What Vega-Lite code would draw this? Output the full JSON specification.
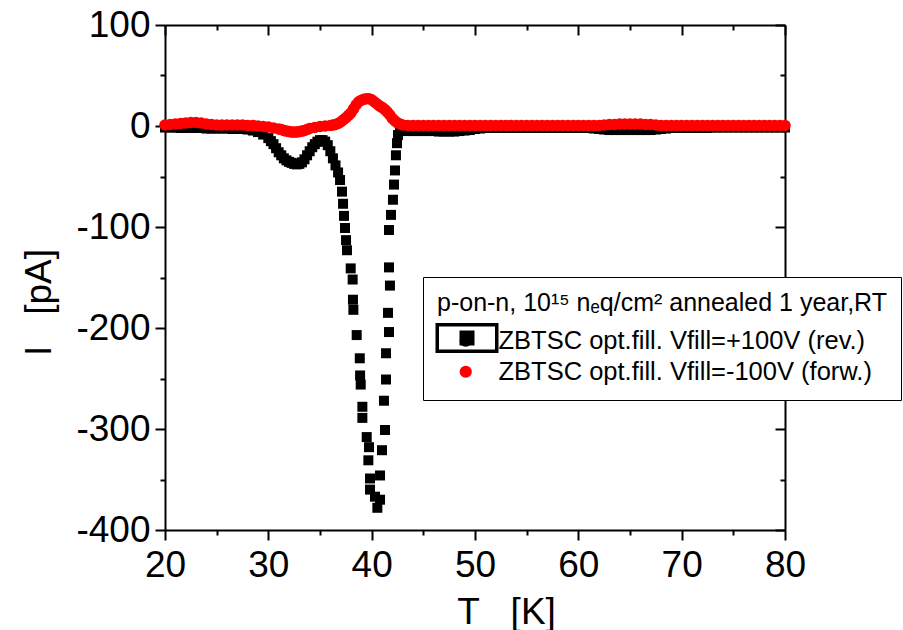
{
 "$schema": "https://vega.github.io/schema/vega-lite/v6.json",
 "width": 620, "height": 505,
 "autosize": {"type": "none"},
 "padding": {"left": 165, "top": 25, "right": 118, "bottom": 100},
 "background": "white",
 "config": {
  "view": {"stroke": null},
  "axis": {"grid": false, "domainColor": "black", "domainWidth": 2, "tickColor": "black", "tickWidth": 2, "labelColor": "black", "labelFont": "Liberation Sans", "labelFontSize": 37, "titleFont": "Liberation Sans", "titleFontSize": 37, "titleFontWeight": "normal", "titleColor": "black", "labelFlush": false, "labelOverlap": false, "labelBound": false}
 },
 "data": {"values": [
  {"s":"r","T":20,"I":-1.5},{"s":"r","T":20.5,"I":-1.5},{"s":"r","T":21,"I":-1.5},{"s":"r","T":21.5,"I":-2},{"s":"r","T":22,"I":-2},{"s":"r","T":22.5,"I":-2},{"s":"r","T":23,"I":-2},{"s":"r","T":23.5,"I":-2},{"s":"r","T":24,"I":-2.5},{"s":"r","T":24.5,"I":-2.5},{"s":"r","T":25,"I":-2.5},{"s":"r","T":25.5,"I":-2.5},{"s":"r","T":26,"I":-2.5},{"s":"r","T":26.5,"I":-3},{"s":"r","T":27,"I":-3},{"s":"r","T":27.5,"I":-3},{"s":"r","T":28,"I":-3.5},{"s":"r","T":28.5,"I":-4.5},{"s":"r","T":29,"I":-6},{"s":"r","T":29.5,"I":-8.5},{"s":"r","T":30,"I":-12},{"s":"r","T":30.25,"I":-15},{"s":"r","T":30.5,"I":-18},{"s":"r","T":30.75,"I":-22},{"s":"r","T":31,"I":-26},{"s":"r","T":31.25,"I":-29},{"s":"r","T":31.5,"I":-32},{"s":"r","T":31.75,"I":-34},{"s":"r","T":32,"I":-35.5},{"s":"r","T":32.25,"I":-36.5},{"s":"r","T":32.5,"I":-37.5},{"s":"r","T":32.75,"I":-38},{"s":"r","T":33,"I":-37.5},{"s":"r","T":33.25,"I":-36},{"s":"r","T":33.5,"I":-33},{"s":"r","T":33.75,"I":-29},{"s":"r","T":34,"I":-25},{"s":"r","T":34.25,"I":-21},{"s":"r","T":34.5,"I":-18},{"s":"r","T":34.75,"I":-15.5},{"s":"r","T":35,"I":-14},{"s":"r","T":35.25,"I":-14},{"s":"r","T":35.5,"I":-15.5},{"s":"r","T":35.75,"I":-19},{"s":"r","T":36,"I":-25},{"s":"r","T":36.25,"I":-32},{"s":"r","T":36.5,"I":-39},{"s":"r","T":36.75,"I":-46},
  {"s":"r","T":36.94,"I":-53.5},{"s":"r","T":37.13,"I":-65},{"s":"r","T":37.23,"I":-77},{"s":"r","T":37.32,"I":-89},{"s":"r","T":37.42,"I":-101},{"s":"r","T":37.52,"I":-113},{"s":"r","T":37.61,"I":-123},{"s":"r","T":37.97,"I":-141},{"s":"r","T":38.16,"I":-152},{"s":"r","T":38.19,"I":-172},{"s":"r","T":38.23,"I":-182},{"s":"r","T":38.55,"I":-207},{"s":"r","T":38.85,"I":-230},{"s":"r","T":38.88,"I":-247},{"s":"r","T":38.94,"I":-256},{"s":"r","T":39.1,"I":-278},{"s":"r","T":39.1,"I":-289},{"s":"r","T":39.52,"I":-308},{"s":"r","T":39.74,"I":-318},{"s":"r","T":39.68,"I":-331},{"s":"r","T":39.84,"I":-349},{"s":"r","T":39.84,"I":-360},{"s":"r","T":40.32,"I":-367},{"s":"r","T":40.55,"I":-378},
  {"s":"r","T":40.81,"I":-370},{"s":"r","T":40.81,"I":-346},{"s":"r","T":41.0,"I":-321},{"s":"r","T":41.29,"I":-301},{"s":"r","T":41.19,"I":-272},{"s":"r","T":41.39,"I":-251},{"s":"r","T":41.39,"I":-225},{"s":"r","T":41.68,"I":-204},{"s":"r","T":41.58,"I":-185},{"s":"r","T":41.77,"I":-158},{"s":"r","T":41.68,"I":-140},{"s":"r","T":41.68,"I":-103},{"s":"r","T":41.87,"I":-88},{"s":"r","T":42.06,"I":-73},{"s":"r","T":42.16,"I":-58},{"s":"r","T":42.26,"I":-44},{"s":"r","T":42.35,"I":-29},{"s":"r","T":42.45,"I":-17},{"s":"r","T":42.55,"I":-9},{"s":"r","T":42.74,"I":-5},
  {"s":"r","T":43,"I":-4.5},{"s":"r","T":43.5,"I":-5},{"s":"r","T":44,"I":-5},{"s":"r","T":44.5,"I":-5},{"s":"r","T":45,"I":-5},{"s":"r","T":45.5,"I":-5},{"s":"r","T":46,"I":-5},{"s":"r","T":46.5,"I":-5.5},{"s":"r","T":47,"I":-5.5},{"s":"r","T":47.5,"I":-5.5},{"s":"r","T":48,"I":-5.5},{"s":"r","T":48.5,"I":-5},{"s":"r","T":49,"I":-4.5},{"s":"r","T":49.5,"I":-4},{"s":"r","T":50,"I":-3},{"s":"r","T":50.5,"I":-2.5},{"s":"r","T":51,"I":-2},{"s":"r","T":51.5,"I":-2},{"s":"r","T":52,"I":-2},{"s":"r","T":52.5,"I":-2},{"s":"r","T":53,"I":-2},{"s":"r","T":53.5,"I":-2},{"s":"r","T":54,"I":-2},{"s":"r","T":54.5,"I":-2},{"s":"r","T":55,"I":-2},{"s":"r","T":55.5,"I":-2},{"s":"r","T":56,"I":-2},{"s":"r","T":56.5,"I":-2},{"s":"r","T":57,"I":-2},{"s":"r","T":57.5,"I":-2},{"s":"r","T":58,"I":-2},{"s":"r","T":58.5,"I":-2},{"s":"r","T":59,"I":-2},{"s":"r","T":59.5,"I":-2},{"s":"r","T":60,"I":-2},{"s":"r","T":60.5,"I":-2},{"s":"r","T":61,"I":-2},{"s":"r","T":61.5,"I":-2.5},{"s":"r","T":62,"I":-3},{"s":"r","T":62.5,"I":-3.5},{"s":"r","T":63,"I":-4},{"s":"r","T":63.5,"I":-4},{"s":"r","T":64,"I":-4},{"s":"r","T":64.5,"I":-4},{"s":"r","T":65,"I":-4},{"s":"r","T":65.5,"I":-4},{"s":"r","T":66,"I":-4},{"s":"r","T":66.5,"I":-4},{"s":"r","T":67,"I":-4},{"s":"r","T":67.5,"I":-3.5},{"s":"r","T":68,"I":-3},{"s":"r","T":68.5,"I":-2.5},{"s":"r","T":69,"I":-2},{"s":"r","T":69.5,"I":-2},{"s":"r","T":70,"I":-2},{"s":"r","T":70.5,"I":-2},{"s":"r","T":71,"I":-2},{"s":"r","T":71.5,"I":-2},{"s":"r","T":72,"I":-2},{"s":"r","T":72.5,"I":-2},{"s":"r","T":73,"I":-1.5},{"s":"r","T":73.5,"I":-1.5},{"s":"r","T":74,"I":-1.5},{"s":"r","T":74.5,"I":-1.5},{"s":"r","T":75,"I":-1.5},{"s":"r","T":75.5,"I":-1.5},{"s":"r","T":76,"I":-1.5},{"s":"r","T":76.5,"I":-1.5},{"s":"r","T":77,"I":-1.5},{"s":"r","T":77.5,"I":-1.5},{"s":"r","T":78,"I":-1.5},{"s":"r","T":78.5,"I":-1.5},{"s":"r","T":79,"I":-1.5},{"s":"r","T":79.5,"I":-1.5},{"s":"r","T":80,"I":-1.5},
  {"s":"f","T":20,"I":1},{"s":"f","T":20.5,"I":1.5},{"s":"f","T":21,"I":2},{"s":"f","T":21.5,"I":2.5},{"s":"f","T":22,"I":3},{"s":"f","T":22.5,"I":3.5},{"s":"f","T":23,"I":3.5},{"s":"f","T":23.5,"I":3},{"s":"f","T":24,"I":2},{"s":"f","T":24.5,"I":1.5},{"s":"f","T":25,"I":1},{"s":"f","T":25.5,"I":1},{"s":"f","T":26,"I":1},{"s":"f","T":26.5,"I":1},{"s":"f","T":27,"I":1},{"s":"f","T":27.5,"I":1},{"s":"f","T":28,"I":0.5},{"s":"f","T":28.5,"I":0.5},{"s":"f","T":29,"I":0},{"s":"f","T":29.5,"I":-0.5},{"s":"f","T":30,"I":-1},{"s":"f","T":30.5,"I":-2},{"s":"f","T":31,"I":-3},{"s":"f","T":31.25,"I":-3.5},{"s":"f","T":31.5,"I":-4.5},{"s":"f","T":31.75,"I":-5},{"s":"f","T":32,"I":-5.5},{"s":"f","T":32.25,"I":-6},{"s":"f","T":32.5,"I":-6},{"s":"f","T":32.75,"I":-6},{"s":"f","T":33,"I":-5.5},{"s":"f","T":33.25,"I":-5},{"s":"f","T":33.5,"I":-4.5},{"s":"f","T":33.75,"I":-3.5},{"s":"f","T":34,"I":-2.5},{"s":"f","T":34.5,"I":-1.5},{"s":"f","T":35,"I":-0.5},{"s":"f","T":35.5,"I":0},{"s":"f","T":36,"I":0.5},{"s":"f","T":36.25,"I":1},{"s":"f","T":36.5,"I":1.5},{"s":"f","T":36.75,"I":2.5},{"s":"f","T":37,"I":4},{"s":"f","T":37.25,"I":6},{"s":"f","T":37.5,"I":8},{"s":"f","T":37.75,"I":10.5},{"s":"f","T":38,"I":13},{"s":"f","T":38.25,"I":17},{"s":"f","T":38.5,"I":21},{"s":"f","T":38.75,"I":24},{"s":"f","T":39,"I":25.5},{"s":"f","T":39.25,"I":26.5},{"s":"f","T":39.5,"I":27},{"s":"f","T":39.75,"I":27},{"s":"f","T":40,"I":26},{"s":"f","T":40.25,"I":24},{"s":"f","T":40.5,"I":22},{"s":"f","T":40.75,"I":20},{"s":"f","T":41,"I":18.5},{"s":"f","T":41.25,"I":16.5},{"s":"f","T":41.5,"I":14},{"s":"f","T":41.75,"I":11},{"s":"f","T":42,"I":7.5},{"s":"f","T":42.25,"I":5},{"s":"f","T":42.5,"I":3},{"s":"f","T":42.75,"I":2},{"s":"f","T":43,"I":1},
  {"s":"f","T":43.5,"I":0.5},{"s":"f","T":44,"I":0.5},{"s":"f","T":44.5,"I":0.5},{"s":"f","T":45,"I":0.5},{"s":"f","T":45.5,"I":0.5},{"s":"f","T":46,"I":0.5},{"s":"f","T":46.5,"I":0.5},{"s":"f","T":47,"I":0.5},{"s":"f","T":47.5,"I":0.5},{"s":"f","T":48,"I":0.5},{"s":"f","T":48.5,"I":0.5},{"s":"f","T":49,"I":0.5},{"s":"f","T":49.5,"I":0.5},{"s":"f","T":50,"I":0.5},{"s":"f","T":50.5,"I":0.5},{"s":"f","T":51,"I":0.5},{"s":"f","T":51.5,"I":0.5},{"s":"f","T":52,"I":0.5},{"s":"f","T":52.5,"I":0.5},{"s":"f","T":53,"I":0.5},{"s":"f","T":53.5,"I":0.5},{"s":"f","T":54,"I":0.5},{"s":"f","T":54.5,"I":0.5},{"s":"f","T":55,"I":0.5},{"s":"f","T":55.5,"I":0.5},{"s":"f","T":56,"I":0.5},{"s":"f","T":56.5,"I":0.5},{"s":"f","T":57,"I":0.5},{"s":"f","T":57.5,"I":0.5},{"s":"f","T":58,"I":0.5},{"s":"f","T":58.5,"I":0.5},{"s":"f","T":59,"I":0.5},{"s":"f","T":59.5,"I":0.5},{"s":"f","T":60,"I":0.5},{"s":"f","T":60.5,"I":0.5},{"s":"f","T":61,"I":0.5},{"s":"f","T":61.5,"I":0.5},{"s":"f","T":62,"I":0.5},{"s":"f","T":62.5,"I":1},{"s":"f","T":63,"I":1.5},{"s":"f","T":63.5,"I":1.5},{"s":"f","T":64,"I":2},{"s":"f","T":64.5,"I":2},{"s":"f","T":65,"I":2},{"s":"f","T":65.5,"I":2},{"s":"f","T":66,"I":2},{"s":"f","T":66.5,"I":1.5},{"s":"f","T":67,"I":1.5},{"s":"f","T":67.5,"I":1},{"s":"f","T":68,"I":0.5},{"s":"f","T":68.5,"I":0.5},{"s":"f","T":69,"I":0.5},{"s":"f","T":69.5,"I":0.5},{"s":"f","T":70,"I":0.5},{"s":"f","T":70.5,"I":0.5},{"s":"f","T":71,"I":0.5},{"s":"f","T":71.5,"I":0.5},{"s":"f","T":72,"I":0.5},{"s":"f","T":72.5,"I":0.5},{"s":"f","T":73,"I":0.5},{"s":"f","T":73.5,"I":0.5},{"s":"f","T":74,"I":0.5},{"s":"f","T":74.5,"I":0.5},{"s":"f","T":75,"I":0.5},{"s":"f","T":75.5,"I":0.5},{"s":"f","T":76,"I":0.5},{"s":"f","T":76.5,"I":0.5},{"s":"f","T":77,"I":0.5},{"s":"f","T":77.5,"I":0.5},{"s":"f","T":78,"I":0.5},{"s":"f","T":78.5,"I":0.5},{"s":"f","T":79,"I":0.5},{"s":"f","T":79.5,"I":0.5},{"s":"f","T":80,"I":0.5}
 ]},
 "encoding": {
  "color": {"field": "s", "type": "nominal", "scale": {"domain": ["r", "f"], "range": ["#000000", "#ff0000"]},
   "legend": {"title": "p-on-n, 10¹⁵ nₑq/cm² annealed 1 year,RT", "orient": "none", "legendX": 258, "legendY": 252, "zindex": 0,
    "padding": 14, "strokeColor": "black", "fillColor": "white",
    "labelExpr": "datum.value === 'r' ? 'ZBTSC opt.fill. Vfill=+100V (rev.)' : 'ZBTSC opt.fill. Vfill=-100V (forw.)'",
    "labelFont": "Liberation Sans", "labelFontSize": 25.5, "labelColor": "black", "labelLimit": 700,
    "titleFont": "Liberation Sans", "titleFontSize": 25, "titleFontWeight": "normal", "titleColor": "black", "titleLimit": 700, "titlePadding": 12,
    "rowPadding": 4, "symbolType": "circle", "symbolSize": 150, "symbolStrokeWidth": 0, "symbolOffset": 16, "labelOffset": 20}}
 },
 "layer": [
  {
   "transform": [{"filter": "datum.s === 'r'"}],
   "mark": {"type": "square", "size": 100, "opacity": 1, "filled": true, "strokeWidth": 0},
   "encoding": {
    "x": {"field": "T", "type": "quantitative", "scale": {"domain": [20, 80], "nice": false, "zero": false},
     "axis": {"orient": "bottom", "values": [20,25,30,35,40,45,50,55,60,65,70,75,80],
      "tickSize": {"condition": {"test": "datum.value % 10 === 0", "value": 10}, "value": 5},
      "labelExpr": "datum.value % 10 === 0 ? toString(datum.value) : ''", "labelPadding": 7,
      "title": "T\u00a0\u00a0\u00a0[K]", "titleX": 341, "titleY": 93, "titleBaseline": "alphabetic", "titleAlign": "center"}},
    "y": {"field": "I", "type": "quantitative", "scale": {"domain": [-400, 100], "nice": false, "zero": false},
     "axis": {"orient": "left", "values": [-400,-350,-300,-250,-200,-150,-100,-50,0,50,100],
      "tickSize": {"condition": {"test": "datum.value % 100 === 0", "value": 10}, "value": 5},
      "labelExpr": "datum.value % 100 === 0 ? toString(datum.value) : ''", "labelPadding": 5,
      "title": "I\u00a0\u00a0\u00a0[pA]", "titleX": -115, "titleY": 277, "titleAngle": 270, "titleBaseline": "alphabetic", "titleAlign": "center"}},
    "stroke": {"datum": "frame", "type": "nominal", "scale": {"range": ["black"]},
     "legend": {"title": null, "orient": "none", "legendX": 301, "legendY": 312, "zindex": 2, "padding": 0,
      "strokeColor": null, "fillColor": null,
      "symbolType": "M-31.5,-15H31.5V15H-31.5ZM-28,-11.5V11.5H28V-11.5ZM-7.5,-7.5H7.5V7.5H-7.5Z",
      "symbolSize": 4, "symbolFillColor": "black", "symbolStrokeColor": "black", "symbolStrokeWidth": 0, "symbolOffset": 0,
      "labelExpr": "''", "labelFontSize": 1}}
   }
  },
  {
   "transform": [{"filter": "datum.s === 'f'"}],
   "mark": {"type": "circle", "size": 133, "opacity": 1},
   "encoding": {
    "x": {"field": "T", "type": "quantitative", "scale": {"domain": [20, 80], "nice": false, "zero": false},
     "axis": {"orient": "top", "values": [20,25,30,35,40,45,50,55,60,65,70,75,80], "labels": false, "title": null,
      "tickSize": {"condition": {"test": "datum.value % 10 === 0", "value": -10}, "value": -5}}},
    "y": {"field": "I", "type": "quantitative", "scale": {"domain": [-400, 100], "nice": false, "zero": false},
     "axis": {"orient": "right", "values": [-400,-350,-300,-250,-200,-150,-100,-50,0,50,100], "labels": false, "title": null,
      "tickSize": {"condition": {"test": "datum.value % 100 === 0", "value": -10}, "value": -5}}}
   }
  }
 ],
 "resolve": {"axis": {"x": "independent", "y": "independent"}}
}
